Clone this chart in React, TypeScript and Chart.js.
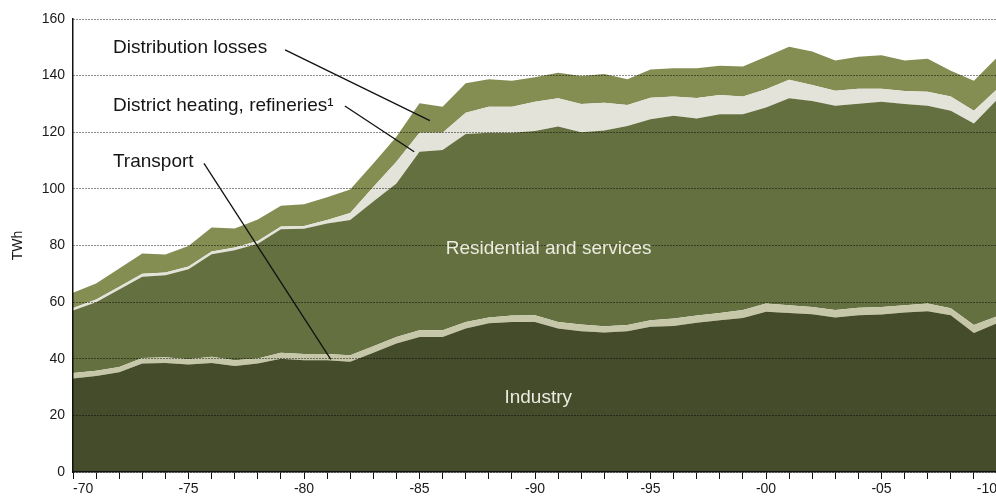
import { useEffect, useRef } from 'react';
import { Chart, registerables } from 'chart.js';

Chart.register(...registerables);

const years = [
  1970, 1971, 1972, 1973, 1974, 1975, 1976, 1977, 1978, 1979,
  1980, 1981, 1982, 1983, 1984, 1985, 1986, 1987, 1988, 1989,
  1990, 1991, 1992, 1993, 1994, 1995, 1996, 1997, 1998, 1999,
  2000, 2001, 2002, 2003, 2004, 2005, 2006, 2007, 2008, 2009,
  2010,
];

const industry = [
  33.0, 33.9, 35.2, 38.3, 38.5, 38.0, 38.5, 37.4, 38.3, 40.0,
  39.5, 39.5, 38.9, 42.1, 45.4, 47.7, 47.7, 50.7, 52.5, 53.0,
  53.0, 50.7, 49.7, 49.3, 49.7, 51.3, 51.6, 52.7, 53.6, 54.4,
  56.6, 56.2, 55.7, 54.6, 55.4, 55.6, 56.3, 56.8, 55.4, 49.1,
  52.5,
];

const transport = [
  2.0, 1.9, 1.9, 2.0, 2.0, 1.8, 2.2, 2.1, 1.8, 2.1,
  2.2, 2.2, 2.3, 2.3, 2.3, 2.4, 2.4, 2.3, 2.1, 2.3,
  2.4, 2.3, 2.4, 2.2, 2.2, 2.3, 2.6, 2.6, 2.6, 2.8,
  2.9, 2.7, 2.6, 2.6, 2.6, 2.7, 2.6, 2.7, 2.4, 2.8,
  2.5,
];

const residential = [
  22.0, 24.2, 27.4, 28.7, 29.0, 31.8, 36.2, 38.8, 40.5, 43.6,
  44.2, 46.1, 47.8, 51.1, 54.2, 63.0, 63.6, 66.4, 65.2, 64.5,
  65.0, 69.0, 67.9, 69.1, 70.3, 71.0, 71.6, 69.6, 70.2, 69.2,
  69.2, 73.1, 72.7, 72.2, 72.1, 72.5, 71.1, 69.9, 69.8, 71.2,
  76.5,
];

const districtHeating = [
  0.9, 0.9, 0.9, 1.0, 1.0, 1.0, 1.0, 1.0, 1.0, 1.0,
  1.0, 1.2, 2.5, 5.2, 7.7, 6.7, 6.1, 7.5, 9.2, 9.2,
  10.4, 10.0, 10.0, 9.8, 7.4, 7.6, 6.8, 7.2, 6.8, 6.2,
  6.5, 6.5, 5.7, 5.3, 5.3, 4.6, 4.6, 4.9, 5.0, 4.5,
  3.7,
];

const distributionLosses = [
  5.4, 5.7, 6.5, 7.2, 6.3, 7.2, 8.5, 6.7, 7.6, 7.3,
  7.7, 8.0, 8.3, 8.3, 8.8, 10.4, 9.2, 10.4, 9.7, 9.2,
  8.6, 9.0, 9.9, 10.2, 9.1, 10.0, 10.0, 10.5, 10.3, 10.6,
  11.5, 11.7, 11.8, 10.6, 11.3, 11.8, 10.7, 11.7, 9.1, 10.6,
  11.2,
];

const seriesNames = ['Industry', 'Transport', 'Residential and services', 'District heating, refineries¹', 'Distribution losses'];
const seriesColors = ['#454c2b', '#c6c7a9', '#64703f', '#e3e3d9', '#848e53'];

const yTicks = [0, 20, 40, 60, 80, 100, 120, 140, 160];
const yTitle = 'TWh';

// Outside annotations: text, anchor (category index, value), leader line from/to (index, value)
const outsideLabels = ['Distribution losses', 'District heating, refineries¹', 'Transport'];
const outsideLabelAt = [[1.73, 147.9], [1.73, 127.6], [1.73, 107.7]];
const leaderFrom = [[9.18, 149.1], [11.77, 129.3], [5.67, 109.0]];
const leaderTo = [[15.45, 124.1], [14.77, 113.1], [11.16, 39.8]];

// Inside annotations (centered)
const insideLabels = ['Residential and services', 'Industry'];
const insideLabelAt = [[20.59, 77.0], [20.14, 24.2]];

const FONT = '"Liberation Sans", Arial, Helvetica, sans-serif';

const annotationPlugin = {
  id: 'annotations',
  afterDraw(chart: any) {
    const { ctx, scales } = chart;
    const xs = scales.x;
    const ys = scales.y;
    const px = (i: number) => xs.getPixelForValue(i);
    const py = (v: number) => ys.getPixelForValue(v);
    ctx.save();
    ctx.strokeStyle = '#111';
    ctx.lineWidth = 1.3;
    for (let k = 0; k < leaderFrom.length; k++) {
      ctx.beginPath();
      ctx.moveTo(px(leaderFrom[k][0]), py(leaderFrom[k][1]));
      ctx.lineTo(px(leaderTo[k][0]), py(leaderTo[k][1]));
      ctx.stroke();
    }
    ctx.font = `19px ${FONT}`;
    ctx.textBaseline = 'alphabetic';
    ctx.fillStyle = '#151515';
    ctx.textAlign = 'left';
    for (let k = 0; k < outsideLabels.length; k++) {
      ctx.fillText(outsideLabels[k], px(outsideLabelAt[k][0]), py(outsideLabelAt[k][1]));
    }
    ctx.fillStyle = '#ecebdf';
    ctx.textAlign = 'center';
    for (let k = 0; k < insideLabels.length; k++) {
      ctx.fillText(insideLabels[k], px(insideLabelAt[k][0]), py(insideLabelAt[k][1]));
    }
    ctx.restore();
  },
};

export default function App() {
  const ref = useRef<HTMLCanvasElement>(null);

  useEffect(() => {
    document.documentElement.style.overflow = 'hidden';
    document.body.style.margin = '0';
    document.body.style.overflow = 'hidden';
    const series = [industry, transport, residential, districtHeating, distributionLosses];
    const chart = new Chart(ref.current as HTMLCanvasElement, {
      type: 'line',
      data: {
        labels: years.map(String),
        datasets: series.map((d, i) => ({
          label: seriesNames[i],
          data: d,
          backgroundColor: seriesColors[i],
          borderColor: seriesColors[i],
          borderWidth: 0,
          pointRadius: 0,
          tension: 0,
          fill: i === 0 ? 'origin' : '-1',
        })),
      },
      options: {
        animation: false,
        responsive: false,
        devicePixelRatio: 1,
        layout: { padding: { top: 19, right: 3, left: 0, bottom: 0 } },
        plugins: {
          legend: { display: false },
          tooltip: { enabled: false },
        },
        scales: {
          x: {
            type: 'category',
            offset: false,
            afterFit: (s: any) => { s.height = 30; },
            grid: {
              drawOnChartArea: false,
              drawTicks: true,
              tickLength: 7,
              tickColor: '#111',
              tickWidth: 1,
              z: 1,
            },
            border: { display: true, color: '#111', width: 1.5, z: 2 },
            ticks: {
              autoSkip: false,
              maxRotation: 0,
              minRotation: 0,
              align: 'inner',
              padding: 2,
              color: '#1a1a1a',
              font: { family: FONT, size: 14 },
              callback: (_v: any, idx: number) =>
                years[idx] % 5 === 0 ? '-' + String(years[idx]).slice(2) : '',
            },
          },
          y: {
            stacked: true,
            min: yTicks[0],
            max: yTicks[yTicks.length - 1],
            afterFit: (s: any) => { s.width = 73; },
            afterBuildTicks: (s: any) => { s.ticks = yTicks.map((v) => ({ value: v })); },
            grid: {
              drawTicks: false,
              color: 'rgba(0,0,0,0.9)',
              lineWidth: 1,
              z: 1,
            },
            border: { display: true, color: '#111', width: 1.5, dash: [1, 2], z: 2 },
            ticks: {
              padding: 8,
              color: '#1a1a1a',
              font: { family: FONT, size: 14 },
            },
            title: {
              display: true,
              text: yTitle,
              color: '#1a1a1a',
              font: { family: FONT, size: 14 },
              padding: { top: 10, bottom: 0 },
            },
          },
        },
      },
      plugins: [annotationPlugin],
    } as any);
    return () => chart.destroy();
  }, []);

  return (
    <div style={{ position: 'absolute', left: 0, top: 0, width: 1000, height: 502 }}>
      <canvas ref={ref} width={1000} height={502} style={{ display: 'block' }} />
    </div>
  );
}
